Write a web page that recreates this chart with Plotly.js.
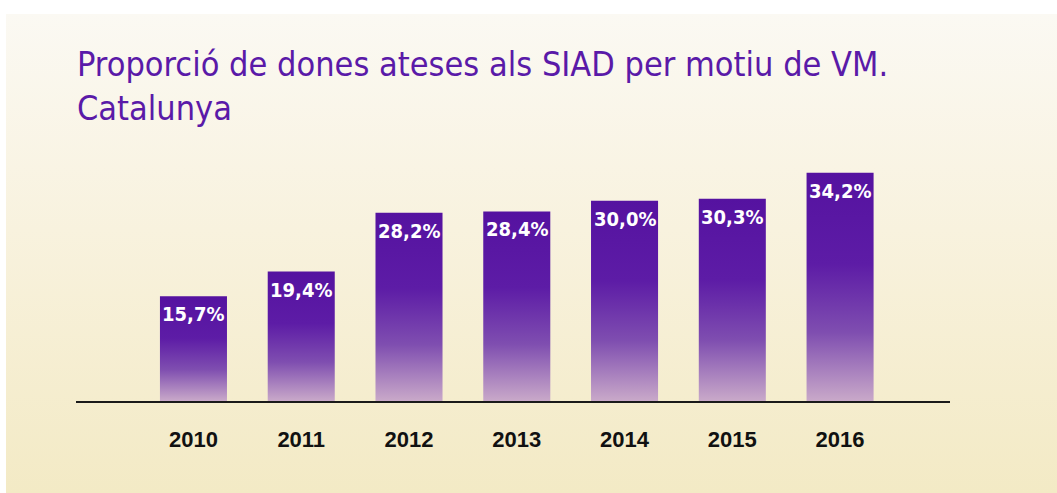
<!DOCTYPE html>
<html>
<head>
<meta charset="utf-8">
<script src="https://cdn.plot.ly/plotly-3.0.1.min.js"></script>
<style>
  html, body { margin: 0; padding: 0; background: #ffffff; }
  #bg { position: absolute; left: 6px; top: 14px; width: 1051px; height: 479px;
        background: linear-gradient(to bottom, #fbf9f3 0%, #f8f2de 45%, #f3eac5 100%); }
  #chart { position: absolute; left: 0; top: 0; width: 1057px; height: 493px; }
</style>
</head>
<body>
<div id="bg"></div>
<div id="chart"></div>
<script>
const years = ['2010', '2011', '2012', '2013', '2014', '2015', '2016'];
const shares = [15.7, 19.4, 28.2, 28.4, 30.0, 30.3, 34.2];
const titleText = 'Proporció de dones ateses als SIAD per motiu de VM.<br>Catalunya';

const narrow = 'Liberation Sans Narrow, DejaVu Sans Condensed, Arial Narrow, sans-serif';

const trace = {
  type: 'bar',
  x: years,
  y: shares,
  width: 0.622,
  marker: { color: '#5a16a2', line: { width: 0 } },
  hoverinfo: 'skip'
};

// category index i is the position of years[i] on the category axis
const labels = years.map(function (yr, i) {
  return {
    x: i,
    y: shares[i],
    xref: 'x', yref: 'y',
    text: shares[i].toFixed(1).replace('.', ',') + '%',
    showarrow: false,
    xanchor: 'center',
    yanchor: 'top',
    yshift: -4,
    font: { family: narrow, size: 20, color: '#ffffff', weight: 'bold' }
  };
});

const layout = {
  width: 1057,
  height: 493,
  separators: ',.',
  paper_bgcolor: 'rgba(0,0,0,0)',
  plot_bgcolor: 'rgba(0,0,0,0)',
  margin: { l: 76, r: 107, t: 134, b: 91.5, pad: 0 },
  showlegend: false,
  title: {
    text: titleText,
    font: { family: narrow, size: 34, color: '#5a1aa8' },
    xref: 'container', yref: 'container',
    x: 77 / 1057, xanchor: 'left',
    y: 1 - 76 / 493, yanchor: 'top'
  },
  annotations: labels,
  xaxis: {
    type: 'category',
    range: [-1.09, 7.02],
    showline: true,
    linecolor: '#1a1a1a',
    linewidth: 1.5,
    ticks: '',
    showgrid: false,
    zeroline: false,
    ticklabelstandoff: 18,
    tickfont: { family: 'Liberation Sans, Arial, sans-serif', size: 22, color: '#111111', weight: 'bold' }
  },
  yaxis: {
    range: [0, 40],
    visible: false,
    showgrid: false,
    zeroline: false
  }
};

Plotly.newPlot('chart', [trace], layout, { displayModeBar: false, staticPlot: true }).then(function (gd) {
  const svg = gd.querySelector('svg.main-svg');
  const ns = 'http://www.w3.org/2000/svg';
  let defs = svg.querySelector('defs');
  if (!defs) { defs = document.createElementNS(ns, 'defs'); svg.insertBefore(defs, svg.firstChild); }
  const grad = document.createElementNS(ns, 'linearGradient');
  grad.setAttribute('id', 'barGrad');
  grad.setAttribute('x1', '0'); grad.setAttribute('y1', '0');
  grad.setAttribute('x2', '0'); grad.setAttribute('y2', '1');
  [['0', '#5512a0'], ['0.4', '#5d1ca6'], ['0.7', '#7f4eb0'], ['1', '#c9a9c9']].forEach(function (s) {
    const st = document.createElementNS(ns, 'stop');
    st.setAttribute('offset', s[0]);
    st.setAttribute('stop-color', s[1]);
    grad.appendChild(st);
  });
  defs.appendChild(grad);
  gd.querySelectorAll('.bars path').forEach(function (p) {
    p.style.fill = 'url(#barGrad)';
  });
});
</script>
</body>
</html>
